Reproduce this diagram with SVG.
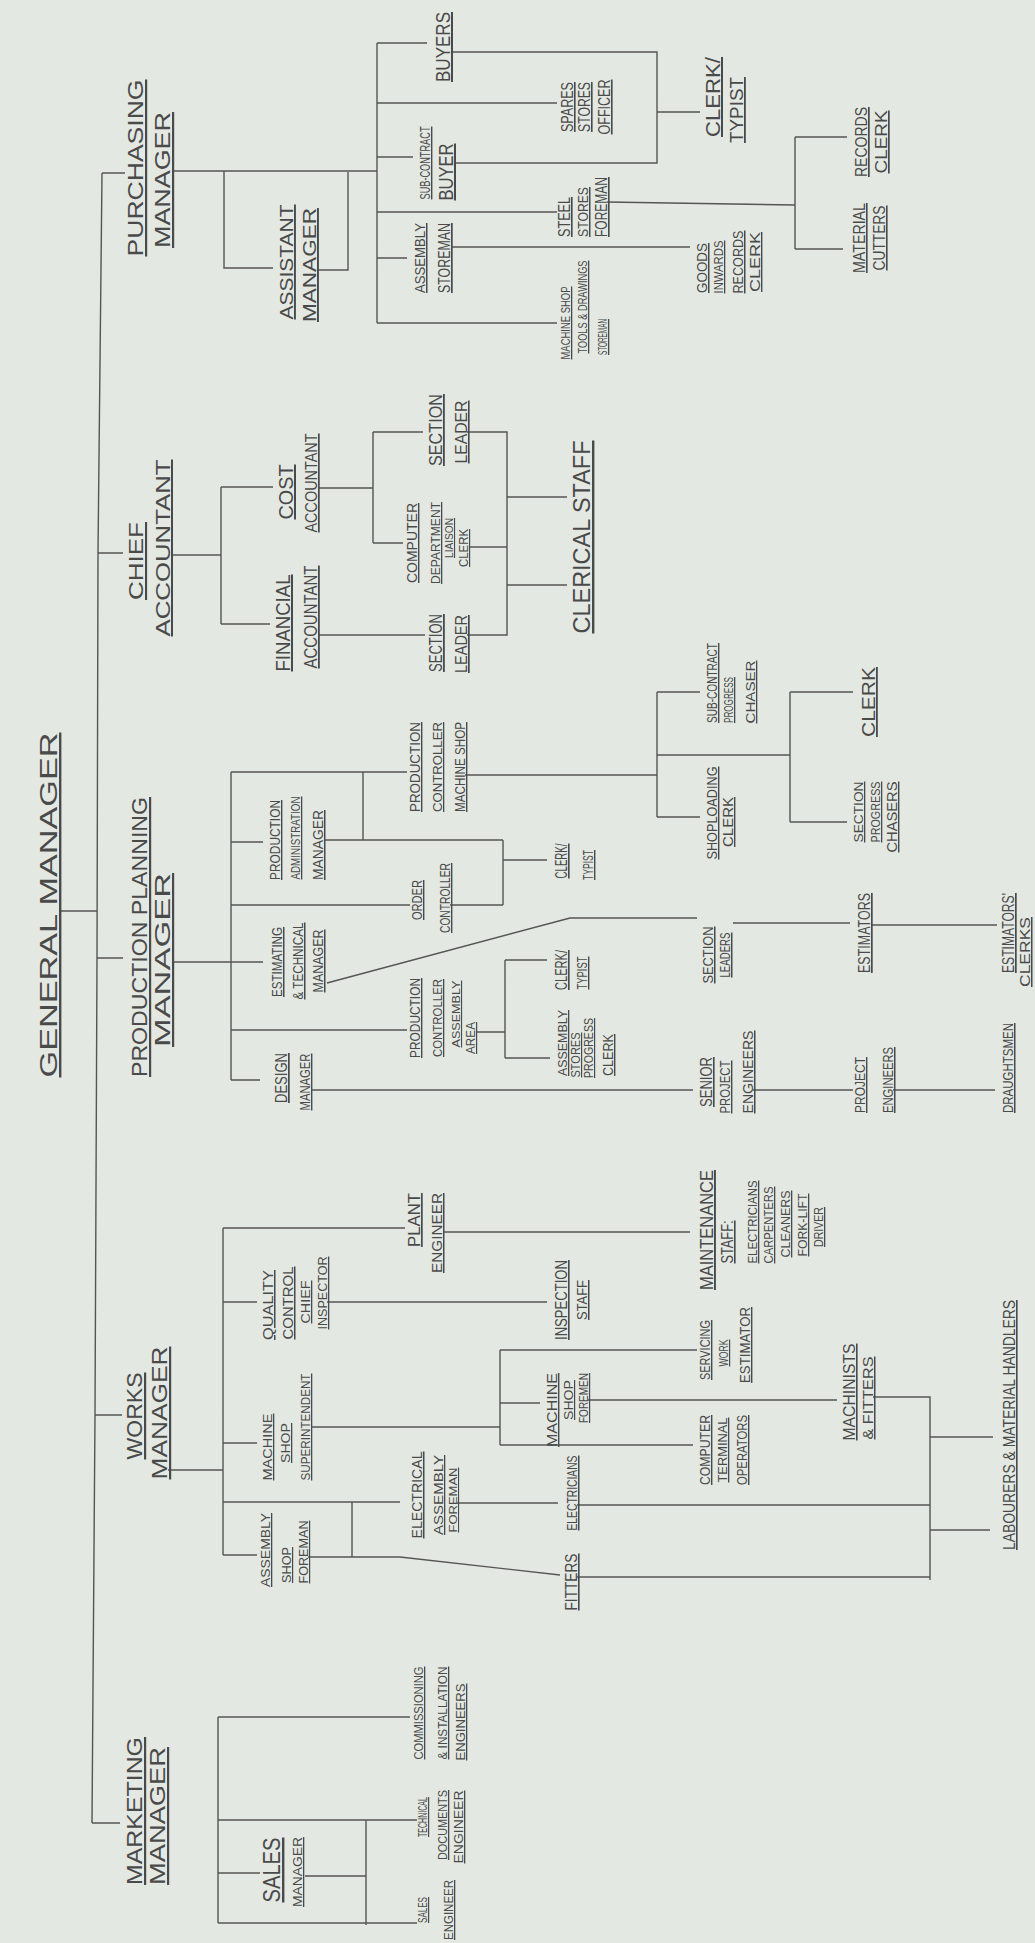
<svg xmlns="http://www.w3.org/2000/svg" width="1035" height="1943" viewBox="0 0 1035 1943">
<style>
.t{font-family:"Liberation Sans",Arial,sans-serif;fill:#4a4a4a;text-anchor:middle;text-decoration:underline;}
.c path{fill:none;stroke:#555;stroke-width:1.4;stroke-linejoin:miter}
</style>
<rect width="1035" height="1943" fill="#e4e8e2"/>
<g class="c" id="connectors">
<path d="M102,173 L98,553 L97,958 L95,1415 L92,1823"/>
<path d="M61,911 H97"/>
<path d="M102,173 H125 M173,171 H377 M224,171 V268 H273 M318,270 H348 V172 M377,43 V323 M377,43 H427 M377,103 H557 M377,157 H413 M377,212 H557 M377,258 H407 M377,323 H557 M452,52 H657 V163 H455 M657,112 H700 M607,202 L795,205 M795,137 V249 M795,137 H847 M795,249 H843 M452,247 H690"/>
<path d="M98,553 H123 M172,555 H221 M221,487 V624 M221,487 H273 M221,624 H270 M318,488 H373 M373,432 V543 M373,432 H423 M373,543 H403 M318,635 H425 M467,432 H507 V635 H467 M470,547 H507 M507,497 H567 M507,585 H567"/>
<path d="M97,958 H123 M172,962 H263 M231,772 V1080 M231,772 H407 M363,772 V840 M231,842 H263 M325,840 H503 M231,905 H410 M450,905 H503 M503,840 V905 M503,860 H547 M231,1030 H407 M477,1032 H505 M505,960 V1058 M505,960 H547 M505,1058 H550 M231,1080 H260 M312,1090 H693 M327,983 L570,918 H697 M733,923 H850 M872,925 H997 M465,775 H657 M657,692 V817 M657,692 H700 M657,817 H700 M657,755 H790 M790,692 V822 M790,692 H853 M790,822 H847 M753,1090 H853 M893,1090 H995"/>
<path d="M95,1415 H122 M168,1470 H223 M223,1228 V1555 M223,1228 H405 M443,1232 H690 M223,1302 H257 M327,1302 H547 M223,1443 H257 M312,1427 H500 M500,1350 V1445 M500,1350 H697 M500,1403 H540 M500,1445 H693 M588,1400 H837 M873,1397 H930 V1580 M930,1437 H993 M930,1530 H990 M223,1502 H400 M352,1502 V1557 M223,1555 H257 M308,1557 H400 L560,1575 M457,1503 H558 M577,1505 H930 M577,1577 H930"/>
<path d="M92,1823 H120 M218,1717 V1923 M218,1717 H410 M218,1820 H417 M218,1873 H260 M305,1876 H366 M366,1820 V1925 M218,1923 H417"/>
</g>
<g id="general-manager"><text class="t" font-size="24" textLength="345" lengthAdjust="spacingAndGlyphs" transform="translate(57 905) rotate(-90)">GENERAL MANAGER</text></g>
<g id="purchasing-manager">
<text class="t" font-size="22" textLength="177" lengthAdjust="spacingAndGlyphs" transform="translate(143 168) rotate(-90)">PURCHASING</text>
<text class="t" font-size="22" textLength="136" lengthAdjust="spacingAndGlyphs" transform="translate(170 180) rotate(-90)">MANAGER</text></g>
<g id="assistant-manager">
<text class="t" font-size="19" textLength="115" lengthAdjust="spacingAndGlyphs" transform="translate(293 262) rotate(-90)">ASSISTANT</text>
<text class="t" font-size="19" textLength="114" lengthAdjust="spacingAndGlyphs" transform="translate(316 265) rotate(-90)">MANAGER</text></g>
<g id="buyers"><text class="t" font-size="20" textLength="70" lengthAdjust="spacingAndGlyphs" transform="translate(450 47) rotate(-90)">BUYERS</text></g>
<g id="spares-stores-officer">
<text class="t" font-size="16" textLength="50" lengthAdjust="spacingAndGlyphs" transform="translate(573 107) rotate(-90)">SPARES</text>
<text class="t" font-size="16" textLength="50" lengthAdjust="spacingAndGlyphs" transform="translate(590 107) rotate(-90)">STORES</text>
<text class="t" font-size="16" textLength="55" lengthAdjust="spacingAndGlyphs" transform="translate(610 107) rotate(-90)">OFFICER</text></g>
<g id="sub-contract-buyer">
<text class="t" font-size="14" textLength="73" lengthAdjust="spacingAndGlyphs" transform="translate(430 163) rotate(-90)">SUB-CONTRACT</text>
<text class="t" font-size="20" textLength="57" lengthAdjust="spacingAndGlyphs" transform="translate(453 172) rotate(-90)">BUYER</text></g>
<g id="steel-stores-foreman">
<text class="t" font-size="16" textLength="40" lengthAdjust="spacingAndGlyphs" transform="translate(570 217) rotate(-90)">STEEL</text>
<text class="t" font-size="15" textLength="50" lengthAdjust="spacingAndGlyphs" transform="translate(588 212) rotate(-90)">STORES</text>
<text class="t" font-size="16" textLength="60" lengthAdjust="spacingAndGlyphs" transform="translate(607 207) rotate(-90)">FOREMAN</text></g>
<g id="assembly-storeman">
<text class="t" font-size="15" textLength="70" lengthAdjust="spacingAndGlyphs" transform="translate(425 258) rotate(-90)">ASSEMBLY</text>
<text class="t" font-size="17" textLength="70" lengthAdjust="spacingAndGlyphs" transform="translate(450 258) rotate(-90)">STOREMAN</text></g>
<g id="goods-inwards-records-clerk">
<text class="t" font-size="15" textLength="50" lengthAdjust="spacingAndGlyphs" transform="translate(707 268) rotate(-90)">GOODS</text>
<text class="t" font-size="13" textLength="53" lengthAdjust="spacingAndGlyphs" transform="translate(723 267) rotate(-90)">INWARDS</text>
<text class="t" font-size="15" textLength="63" lengthAdjust="spacingAndGlyphs" transform="translate(743 262) rotate(-90)">RECORDS</text>
<text class="t" font-size="14" textLength="60" lengthAdjust="spacingAndGlyphs" transform="translate(760 262) rotate(-90)">CLERK</text></g>
<g id="machine-shop-storeman">
<text class="t" font-size="13" textLength="73" lengthAdjust="spacingAndGlyphs" transform="translate(570 323) rotate(-90)">MACHINE SHOP</text>
<text class="t" font-size="13" textLength="93" lengthAdjust="spacingAndGlyphs" transform="translate(587 307) rotate(-90)">TOOLS &amp; DRAWINGS</text>
<text class="t" font-size="13" textLength="36" lengthAdjust="spacingAndGlyphs" transform="translate(607 337) rotate(-90)">STOREMAN</text></g>
<g id="clerk-typist-purchasing">
<text class="t" font-size="20" textLength="80" lengthAdjust="spacingAndGlyphs" transform="translate(720 97) rotate(-90)">CLERK/</text>
<text class="t" font-size="18" textLength="66" lengthAdjust="spacingAndGlyphs" transform="translate(743 110) rotate(-90)">TYPIST</text></g>
<g id="records-clerk">
<text class="t" font-size="17" textLength="70" lengthAdjust="spacingAndGlyphs" transform="translate(867 142) rotate(-90)">RECORDS</text>
<text class="t" font-size="17" textLength="63" lengthAdjust="spacingAndGlyphs" transform="translate(887 142) rotate(-90)">CLERK</text></g>
<g id="material-cutters">
<text class="t" font-size="16" textLength="70" lengthAdjust="spacingAndGlyphs" transform="translate(865 238) rotate(-90)">MATERIAL</text>
<text class="t" font-size="16" textLength="65" lengthAdjust="spacingAndGlyphs" transform="translate(885 238) rotate(-90)">CUTTERS</text></g>
<g id="chief-accountant">
<text class="t" font-size="21" textLength="78" lengthAdjust="spacingAndGlyphs" transform="translate(143 561) rotate(-90)">CHIEF</text>
<text class="t" font-size="20" textLength="177" lengthAdjust="spacingAndGlyphs" transform="translate(170 548) rotate(-90)">ACCOUNTANT</text></g>
<g id="cost-accountant">
<text class="t" font-size="20" textLength="55" lengthAdjust="spacingAndGlyphs" transform="translate(293 492) rotate(-90)">COST</text>
<text class="t" font-size="17" textLength="99" lengthAdjust="spacingAndGlyphs" transform="translate(317 483) rotate(-90)">ACCOUNTANT</text></g>
<g id="financial-accountant">
<text class="t" font-size="20" textLength="97" lengthAdjust="spacingAndGlyphs" transform="translate(290 623) rotate(-90)">FINANCIAL</text>
<text class="t" font-size="18" textLength="103" lengthAdjust="spacingAndGlyphs" transform="translate(317 617) rotate(-90)">ACCOUNTANT</text></g>
<g id="section-leader-cost">
<text class="t" font-size="18" textLength="72" lengthAdjust="spacingAndGlyphs" transform="translate(442 430) rotate(-90)">SECTION</text>
<text class="t" font-size="16" textLength="63" lengthAdjust="spacingAndGlyphs" transform="translate(467 432) rotate(-90)">LEADER</text></g>
<g id="computer-liaison-clerk">
<text class="t" font-size="14" textLength="80" lengthAdjust="spacingAndGlyphs" transform="translate(417 543) rotate(-90)">COMPUTER</text>
<text class="t" font-size="13" textLength="82" lengthAdjust="spacingAndGlyphs" transform="translate(440 543) rotate(-90)">DEPARTMENT</text>
<text class="t" font-size="11" textLength="40" lengthAdjust="spacingAndGlyphs" transform="translate(453 538) rotate(-90)">LIAISON</text>
<text class="t" font-size="12" textLength="38" lengthAdjust="spacingAndGlyphs" transform="translate(468 548) rotate(-90)">CLERK</text></g>
<g id="section-leader-financial">
<text class="t" font-size="18" textLength="58" lengthAdjust="spacingAndGlyphs" transform="translate(442 643) rotate(-90)">SECTION</text>
<text class="t" font-size="17" textLength="58" lengthAdjust="spacingAndGlyphs" transform="translate(467 644) rotate(-90)">LEADER</text></g>
<g id="clerical-staff"><text class="t" font-size="24" textLength="193" lengthAdjust="spacingAndGlyphs" transform="translate(590 537) rotate(-90)">CLERICAL STAFF</text></g>
<g id="production-planning-manager">
<text class="t" font-size="22" textLength="280" lengthAdjust="spacingAndGlyphs" transform="translate(147 937) rotate(-90)">PRODUCTION PLANNING</text>
<text class="t" font-size="22" textLength="174" lengthAdjust="spacingAndGlyphs" transform="translate(170 960) rotate(-90)">MANAGER</text></g>
<g id="estimating-technical-manager">
<text class="t" font-size="15" textLength="70" lengthAdjust="spacingAndGlyphs" transform="translate(282 962) rotate(-90)">ESTIMATING</text>
<text class="t" font-size="15" textLength="77" lengthAdjust="spacingAndGlyphs" transform="translate(303 961) rotate(-90)">&amp; TECHNICAL</text>
<text class="t" font-size="15" textLength="63" lengthAdjust="spacingAndGlyphs" transform="translate(323 961) rotate(-90)">MANAGER</text></g>
<g id="production-administration-manager">
<text class="t" font-size="14" textLength="80" lengthAdjust="spacingAndGlyphs" transform="translate(280 840) rotate(-90)">PRODUCTION</text>
<text class="t" font-size="13" textLength="83" lengthAdjust="spacingAndGlyphs" transform="translate(300 838) rotate(-90)">ADMINISTRATION</text>
<text class="t" font-size="15" textLength="70" lengthAdjust="spacingAndGlyphs" transform="translate(323 845) rotate(-90)">MANAGER</text></g>
<g id="production-controller-machine-shop">
<text class="t" font-size="14" textLength="90" lengthAdjust="spacingAndGlyphs" transform="translate(420 767) rotate(-90)">PRODUCTION</text>
<text class="t" font-size="13" textLength="90" lengthAdjust="spacingAndGlyphs" transform="translate(442 767) rotate(-90)">CONTROLLER</text>
<text class="t" font-size="14" textLength="90" lengthAdjust="spacingAndGlyphs" transform="translate(465 767) rotate(-90)">MACHINE SHOP</text></g>
<g id="order-controller">
<text class="t" font-size="14" textLength="40" lengthAdjust="spacingAndGlyphs" transform="translate(422 900) rotate(-90)">ORDER</text>
<text class="t" font-size="14" textLength="70" lengthAdjust="spacingAndGlyphs" transform="translate(450 898) rotate(-90)">CONTROLLER</text></g>
<g id="clerk-typist-order">
<text class="t" font-size="16" textLength="35" lengthAdjust="spacingAndGlyphs" transform="translate(567 861) rotate(-90)">CLERK/</text>
<text class="t" font-size="14" textLength="30" lengthAdjust="spacingAndGlyphs" transform="translate(593 865) rotate(-90)">TYPIST</text></g>
<g id="production-controller-assembly">
<text class="t" font-size="14" textLength="80" lengthAdjust="spacingAndGlyphs" transform="translate(420 1018) rotate(-90)">PRODUCTION</text>
<text class="t" font-size="13" textLength="78" lengthAdjust="spacingAndGlyphs" transform="translate(442 1018) rotate(-90)">CONTROLLER</text>
<text class="t" font-size="11" textLength="67" lengthAdjust="spacingAndGlyphs" transform="translate(460 1014) rotate(-90)">ASSEMBLY</text>
<text class="t" font-size="12" textLength="32" lengthAdjust="spacingAndGlyphs" transform="translate(475 1038) rotate(-90)">AREA</text></g>
<g id="clerk-typist-assembly">
<text class="t" font-size="16" textLength="40" lengthAdjust="spacingAndGlyphs" transform="translate(567 970) rotate(-90)">CLERK/</text>
<text class="t" font-size="14" textLength="33" lengthAdjust="spacingAndGlyphs" transform="translate(587 973) rotate(-90)">TYPIST</text></g>
<g id="assembly-stores-progress-clerk">
<text class="t" font-size="13" textLength="66" lengthAdjust="spacingAndGlyphs" transform="translate(567 1043) rotate(-90)">ASSEMBLY</text>
<text class="t" font-size="12" textLength="45" lengthAdjust="spacingAndGlyphs" transform="translate(580 1055) rotate(-90)">STORES</text>
<text class="t" font-size="12" textLength="60" lengthAdjust="spacingAndGlyphs" transform="translate(593 1048) rotate(-90)">PROGRESS</text>
<text class="t" font-size="14" textLength="42" lengthAdjust="spacingAndGlyphs" transform="translate(613 1055) rotate(-90)">CLERK</text></g>
<g id="design-manager">
<text class="t" font-size="17" textLength="50" lengthAdjust="spacingAndGlyphs" transform="translate(287 1078) rotate(-90)">DESIGN</text>
<text class="t" font-size="14" textLength="57" lengthAdjust="spacingAndGlyphs" transform="translate(310 1082) rotate(-90)">MANAGER</text></g>
<g id="senior-project-engineers">
<text class="t" font-size="16" textLength="50" lengthAdjust="spacingAndGlyphs" transform="translate(712 1082) rotate(-90)">SENIOR</text>
<text class="t" font-size="14" textLength="53" lengthAdjust="spacingAndGlyphs" transform="translate(730 1087) rotate(-90)">PROJECT</text>
<text class="t" font-size="15" textLength="83" lengthAdjust="spacingAndGlyphs" transform="translate(753 1072) rotate(-90)">ENGINEERS</text></g>
<g id="project-engineers">
<text class="t" font-size="14" textLength="56" lengthAdjust="spacingAndGlyphs" transform="translate(865 1085) rotate(-90)">PROJECT</text>
<text class="t" font-size="15" textLength="66" lengthAdjust="spacingAndGlyphs" transform="translate(893 1080) rotate(-90)">ENGINEERS</text></g>
<g id="draughtsmen"><text class="t" font-size="15" textLength="90" lengthAdjust="spacingAndGlyphs" transform="translate(1013 1068) rotate(-90)">DRAUGHTSMEN</text></g>
<g id="section-leaders">
<text class="t" font-size="15" textLength="57" lengthAdjust="spacingAndGlyphs" transform="translate(713 955) rotate(-90)">SECTION</text>
<text class="t" font-size="15" textLength="45" lengthAdjust="spacingAndGlyphs" transform="translate(730 955) rotate(-90)">LEADERS</text></g>
<g id="estimators"><text class="t" font-size="17" textLength="80" lengthAdjust="spacingAndGlyphs" transform="translate(870 933) rotate(-90)">ESTIMATORS</text></g>
<g id="estimators-clerks">
<text class="t" font-size="17" textLength="80" lengthAdjust="spacingAndGlyphs" transform="translate(1014 933) rotate(-90)">ESTIMATORS'</text>
<text class="t" font-size="15" textLength="70" lengthAdjust="spacingAndGlyphs" transform="translate(1030 952) rotate(-90)">CLERKS</text></g>
<g id="sub-contract-progress-chaser">
<text class="t" font-size="14" textLength="80" lengthAdjust="spacingAndGlyphs" transform="translate(717 683) rotate(-90)">SUB-CONTRACT</text>
<text class="t" font-size="13" textLength="46" lengthAdjust="spacingAndGlyphs" transform="translate(733 700) rotate(-90)">PROGRESS</text>
<text class="t" font-size="13" textLength="63" lengthAdjust="spacingAndGlyphs" transform="translate(755 692) rotate(-90)">CHASER</text></g>
<g id="clerk-planning"><text class="t" font-size="18" textLength="70" lengthAdjust="spacingAndGlyphs" transform="translate(875 702) rotate(-90)">CLERK</text></g>
<g id="section-progress-chasers">
<text class="t" font-size="13" textLength="61" lengthAdjust="spacingAndGlyphs" transform="translate(863 812) rotate(-90)">SECTION</text>
<text class="t" font-size="13" textLength="61" lengthAdjust="spacingAndGlyphs" transform="translate(880 812) rotate(-90)">PROGRESS</text>
<text class="t" font-size="14" textLength="71" lengthAdjust="spacingAndGlyphs" transform="translate(897 817) rotate(-90)">CHASERS</text></g>
<g id="shoploading-clerk">
<text class="t" font-size="14" textLength="93" lengthAdjust="spacingAndGlyphs" transform="translate(717 813) rotate(-90)">SHOPLOADING</text>
<text class="t" font-size="14" textLength="50" lengthAdjust="spacingAndGlyphs" transform="translate(733 822) rotate(-90)">CLERK</text></g>
<g id="works-manager">
<text class="t" font-size="22" textLength="87" lengthAdjust="spacingAndGlyphs" transform="translate(142 1416) rotate(-90)">WORKS</text>
<text class="t" font-size="22" textLength="133" lengthAdjust="spacingAndGlyphs" transform="translate(167 1413) rotate(-90)">MANAGER</text></g>
<g id="plant-engineer">
<text class="t" font-size="17" textLength="54" lengthAdjust="spacingAndGlyphs" transform="translate(420 1220) rotate(-90)">PLANT</text>
<text class="t" font-size="15" textLength="80" lengthAdjust="spacingAndGlyphs" transform="translate(442 1233) rotate(-90)">ENGINEER</text></g>
<g id="maintenance-staff">
<text class="t" font-size="19" textLength="120" lengthAdjust="spacingAndGlyphs" transform="translate(713 1230) rotate(-90)">MAINTENANCE</text>
<text class="t" font-size="16" textLength="43" lengthAdjust="spacingAndGlyphs" transform="translate(733 1242) rotate(-90)">STAFF:</text>
<text class="t" font-size="13" textLength="83" lengthAdjust="spacingAndGlyphs" transform="translate(757 1222) rotate(-90)">ELECTRICIANS</text>
<text class="t" font-size="13" textLength="77" lengthAdjust="spacingAndGlyphs" transform="translate(773 1225) rotate(-90)">CARPENTERS</text>
<text class="t" font-size="13" textLength="67" lengthAdjust="spacingAndGlyphs" transform="translate(790 1224) rotate(-90)">CLEANERS</text>
<text class="t" font-size="13" textLength="63" lengthAdjust="spacingAndGlyphs" transform="translate(807 1225) rotate(-90)">FORK-LIFT</text>
<text class="t" font-size="13" textLength="40" lengthAdjust="spacingAndGlyphs" transform="translate(823 1227) rotate(-90)">DRIVER</text></g>
<g id="quality-control-chief-inspector">
<text class="t" font-size="15" textLength="70" lengthAdjust="spacingAndGlyphs" transform="translate(273 1305) rotate(-90)">QUALITY</text>
<text class="t" font-size="15" textLength="73" lengthAdjust="spacingAndGlyphs" transform="translate(293 1303) rotate(-90)">CONTROL</text>
<text class="t" font-size="13" textLength="43" lengthAdjust="spacingAndGlyphs" transform="translate(310 1302) rotate(-90)">CHIEF</text>
<text class="t" font-size="13" textLength="73" lengthAdjust="spacingAndGlyphs" transform="translate(327 1293) rotate(-90)">INSPECTOR</text></g>
<g id="inspection-staff">
<text class="t" font-size="16" textLength="80" lengthAdjust="spacingAndGlyphs" transform="translate(567 1300) rotate(-90)">INSPECTION</text>
<text class="t" font-size="15" textLength="40" lengthAdjust="spacingAndGlyphs" transform="translate(587 1300) rotate(-90)">STAFF</text></g>
<g id="machine-shop-superintendent">
<text class="t" font-size="13" textLength="67" lengthAdjust="spacingAndGlyphs" transform="translate(272 1447) rotate(-90)">MACHINE</text>
<text class="t" font-size="13" textLength="40" lengthAdjust="spacingAndGlyphs" transform="translate(290 1443) rotate(-90)">SHOP</text>
<text class="t" font-size="13" textLength="107" lengthAdjust="spacingAndGlyphs" transform="translate(310 1427) rotate(-90)">SUPERINTENDENT</text></g>
<g id="servicing-work-estimator">
<text class="t" font-size="14" textLength="60" lengthAdjust="spacingAndGlyphs" transform="translate(710 1350) rotate(-90)">SERVICING</text>
<text class="t" font-size="12" textLength="27" lengthAdjust="spacingAndGlyphs" transform="translate(728 1353) rotate(-90)">WORK</text>
<text class="t" font-size="14" textLength="76" lengthAdjust="spacingAndGlyphs" transform="translate(750 1345) rotate(-90)">ESTIMATOR</text></g>
<g id="machine-shop-foremen">
<text class="t" font-size="14" textLength="74" lengthAdjust="spacingAndGlyphs" transform="translate(557 1410) rotate(-90)">MACHINE</text>
<text class="t" font-size="12" textLength="40" lengthAdjust="spacingAndGlyphs" transform="translate(573 1400) rotate(-90)">SHOP</text>
<text class="t" font-size="12" textLength="50" lengthAdjust="spacingAndGlyphs" transform="translate(588 1398) rotate(-90)">FOREMEN</text></g>
<g id="computer-terminal-operators">
<text class="t" font-size="14" textLength="70" lengthAdjust="spacingAndGlyphs" transform="translate(710 1450) rotate(-90)">COMPUTER</text>
<text class="t" font-size="13" textLength="65" lengthAdjust="spacingAndGlyphs" transform="translate(727 1450) rotate(-90)">TERMINAL</text>
<text class="t" font-size="14" textLength="70" lengthAdjust="spacingAndGlyphs" transform="translate(747 1450) rotate(-90)">OPERATORS</text></g>
<g id="machinists-fitters">
<text class="t" font-size="16" textLength="97" lengthAdjust="spacingAndGlyphs" transform="translate(855 1392) rotate(-90)">MACHINISTS</text>
<text class="t" font-size="15" textLength="83" lengthAdjust="spacingAndGlyphs" transform="translate(873 1398) rotate(-90)">&amp; FITTERS</text></g>
<g id="labourers"><text class="t" font-size="16" textLength="250" lengthAdjust="spacingAndGlyphs" transform="translate(1015 1425) rotate(-90)">LABOURERS &amp; MATERIAL HANDLERS</text></g>
<g id="electrical-assembly-foreman">
<text class="t" font-size="15" textLength="87" lengthAdjust="spacingAndGlyphs" transform="translate(422 1495) rotate(-90)">ELECTRICAL</text>
<text class="t" font-size="13" textLength="80" lengthAdjust="spacingAndGlyphs" transform="translate(443 1495) rotate(-90)">ASSEMBLY</text>
<text class="t" font-size="11" textLength="65" lengthAdjust="spacingAndGlyphs" transform="translate(457 1500) rotate(-90)">FOREMAN</text></g>
<g id="electricians"><text class="t" font-size="15" textLength="75" lengthAdjust="spacingAndGlyphs" transform="translate(577 1493) rotate(-90)">ELECTRICIANS</text></g>
<g id="fitters"><text class="t" font-size="16" textLength="57" lengthAdjust="spacingAndGlyphs" transform="translate(577 1582) rotate(-90)">FITTERS</text></g>
<g id="assembly-shop-foreman">
<text class="t" font-size="13" textLength="74" lengthAdjust="spacingAndGlyphs" transform="translate(270 1550) rotate(-90)">ASSEMBLY</text>
<text class="t" font-size="12" textLength="36" lengthAdjust="spacingAndGlyphs" transform="translate(291 1565) rotate(-90)">SHOP</text>
<text class="t" font-size="12" textLength="63" lengthAdjust="spacingAndGlyphs" transform="translate(308 1552) rotate(-90)">FOREMAN</text></g>
<g id="marketing-manager">
<text class="t" font-size="22" textLength="148" lengthAdjust="spacingAndGlyphs" transform="translate(142 1811) rotate(-90)">MARKETING</text>
<text class="t" font-size="22" textLength="138" lengthAdjust="spacingAndGlyphs" transform="translate(165 1816) rotate(-90)">MANAGER</text></g>
<g id="sales-manager">
<text class="t" font-size="24" textLength="65" lengthAdjust="spacingAndGlyphs" transform="translate(280 1870) rotate(-90)">SALES</text>
<text class="t" font-size="13" textLength="70" lengthAdjust="spacingAndGlyphs" transform="translate(302 1872) rotate(-90)">MANAGER</text></g>
<g id="commissioning-engineers">
<text class="t" font-size="13" textLength="93" lengthAdjust="spacingAndGlyphs" transform="translate(423 1713) rotate(-90)">COMMISSIONING</text>
<text class="t" font-size="13" textLength="93" lengthAdjust="spacingAndGlyphs" transform="translate(447 1713) rotate(-90)">&amp; INSTALLATION</text>
<text class="t" font-size="13" textLength="77" lengthAdjust="spacingAndGlyphs" transform="translate(465 1722) rotate(-90)">ENGINEERS</text></g>
<g id="technical-documents-engineer">
<text class="t" font-size="12" textLength="40" lengthAdjust="spacingAndGlyphs" transform="translate(427 1817) rotate(-90)">TECHNICAL</text>
<text class="t" font-size="13" textLength="70" lengthAdjust="spacingAndGlyphs" transform="translate(447 1825) rotate(-90)">DOCUMENTS</text>
<text class="t" font-size="13" textLength="73" lengthAdjust="spacingAndGlyphs" transform="translate(463 1827) rotate(-90)">ENGINEER</text></g>
<g id="sales-engineer">
<text class="t" font-size="12" textLength="26" lengthAdjust="spacingAndGlyphs" transform="translate(427 1910) rotate(-90)">SALES</text>
<text class="t" font-size="13" textLength="60" lengthAdjust="spacingAndGlyphs" transform="translate(453 1910) rotate(-90)">ENGINEER</text></g>
</svg>
